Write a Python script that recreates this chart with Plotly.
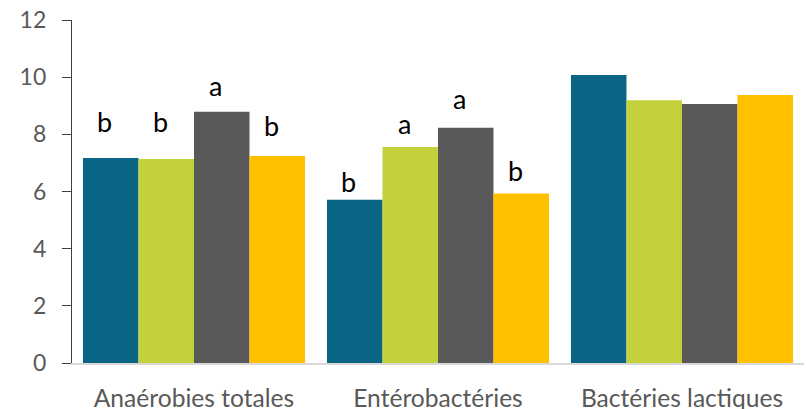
import plotly.graph_objects as go

categories = ["Anaérobies totales", "Entérobactéries", "Bactéries lactiques"]
series_names = ["S1", "S2", "S3", "S4"]
series_values = [
    [7.17, 5.71, 10.08],
    [7.14, 7.56, 9.19],
    [8.79, 8.23, 9.06],
    [7.24, 5.93, 9.38],
]
colors = ["#0B6685", "#C2D13C", "#595959", "#FFC000"]
# significance letters per series (per category), and baseline height of each letter
letters = [
    ["b", "b", ""],
    ["b", "a", ""],
    ["a", "a", ""],
    ["b", "b", ""],
]
letter_y = [
    [8.05, 5.95, None],
    [8.05, 7.98, None],
    [9.31, 8.85, None],
    [7.91, 6.33, None],
]
y_ticks = [0, 2, 4, 6, 8, 10, 12]

bargap = 0.09
fig = go.Figure()
for name, vals, col in zip(series_names, series_values, colors):
    fig.add_trace(go.Bar(x=categories, y=vals, name=name, marker=dict(color=col, line=dict(width=0))))

n = len(series_values)
w = (1 - bargap) / n
for i in range(n):
    for j, cat in enumerate(categories):
        if letters[i][j]:
            fig.add_annotation(
                x=j + (i - (n - 1) / 2) * w, y=letter_y[i][j], xref="x", yref="y",
                text=letters[i][j], showarrow=False, yanchor="bottom", yshift=-7, xshift=-6,
                font=dict(family="Lato", size=27, color="#000000"),
            )

fig.update_layout(
    width=806, height=409,
    margin=dict(l=72, r=2, t=20, b=46, autoexpand=False),
    paper_bgcolor="white", plot_bgcolor="white",
    barmode="group", bargap=bargap, bargroupgap=0,
    showlegend=False,
    font=dict(family="Lato", size=23, color="#595959"),
)
fig.update_xaxes(
    showline=True, linecolor="#D9D9D9", linewidth=1.5, ticks="", showgrid=False,
    tickfont=dict(size=24.6, color="#595959"), range=[-0.5, 2.5],
    ticklabelstandoff=13, automargin=False,
)
fig.update_yaxes(
    range=[0, 12], tickvals=y_ticks, showgrid=False, zeroline=False,
    showline=True, linecolor="#404040", linewidth=1.3,
    ticks="outside", ticklen=9, tickcolor="#404040", tickwidth=1.3,
    ticklabelstandoff=11, tickfont=dict(size=23, color="#595959"), automargin=False,
)
fig.write_html(
    "out.html",
    config={"displayModeBar": False},
    post_script="document.body.style.margin='0';document.body.style.overflow='hidden';",
)
